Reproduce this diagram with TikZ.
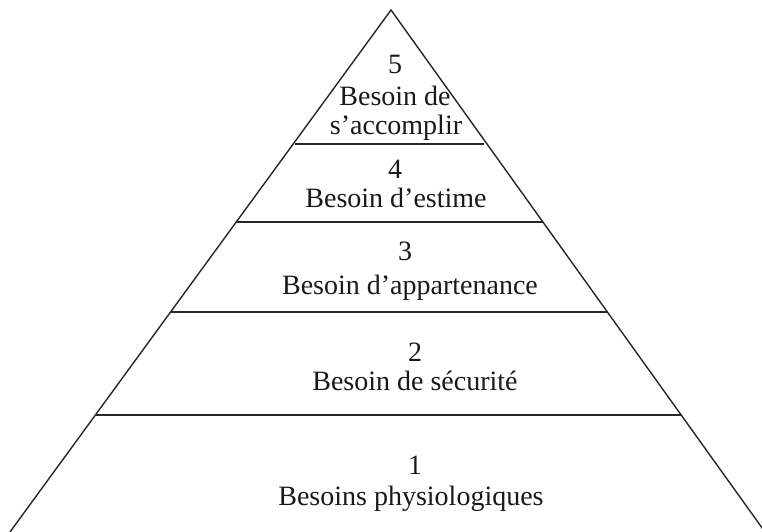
\documentclass[tikz,border=0pt]{standalone}
\usepackage{fontspec}
\setmainfont{Liberation Serif}
\usetikzlibrary{calc}
\begin{document}
\begin{tikzpicture}[x=1pt,y=-1pt,
  edge/.style={line width=1.4pt,black!85},
  lbl/.style={anchor=base,inner sep=0pt,font=\fontsize{28}{30}\selectfont,text=black!90}]
\useasboundingbox (0,0) rectangle (762,532);
\clip (0,0) rectangle (762,532);
\coordinate (A) at (391,10);
\coordinate (BL) at (10,532);
\coordinate (BR) at (765,532);
\draw[edge] (BL) -- (A) -- (BR);
% horizontal levels
\coordinate (l1) at (295,144); \coordinate (r1) at (484,144);
\coordinate (l2) at (236.5,222); \coordinate (r2) at (542.8,222);
\coordinate (l3) at (170.9,312); \coordinate (r3) at (607.3,312);
\coordinate (l4) at (95.8,415); \coordinate (r4) at (681,415);
\draw[edge] (l1) -- (r1);
\draw[edge] (l2) -- (r2);
\draw[edge] (l3) -- (r3);
\draw[edge] (l4) -- (r4);
% labels
\node[lbl] (n5) at (395,74) {5};
\node[lbl] (t5a) at (395,106) {Besoin de};
\node[lbl] (t5b) at (396,134) {s’accomplir};
\node[lbl] (n4) at (395,178) {4};
\node[lbl] (t4) at (396,207) {Besoin d’estime};
\node[lbl] (n3) at (405,260) {3};
\node[lbl] (t3) at (410,294) {Besoin d’appartenance};
\node[lbl] (n2) at (415,361) {2};
\node[lbl] (t2) at (415,390) {Besoin de sécurité};
\node[lbl] (n1) at (415,474) {1};
\node[lbl] (t1) at (411,505) {Besoins physiologiques};
\end{tikzpicture}
\end{document}
